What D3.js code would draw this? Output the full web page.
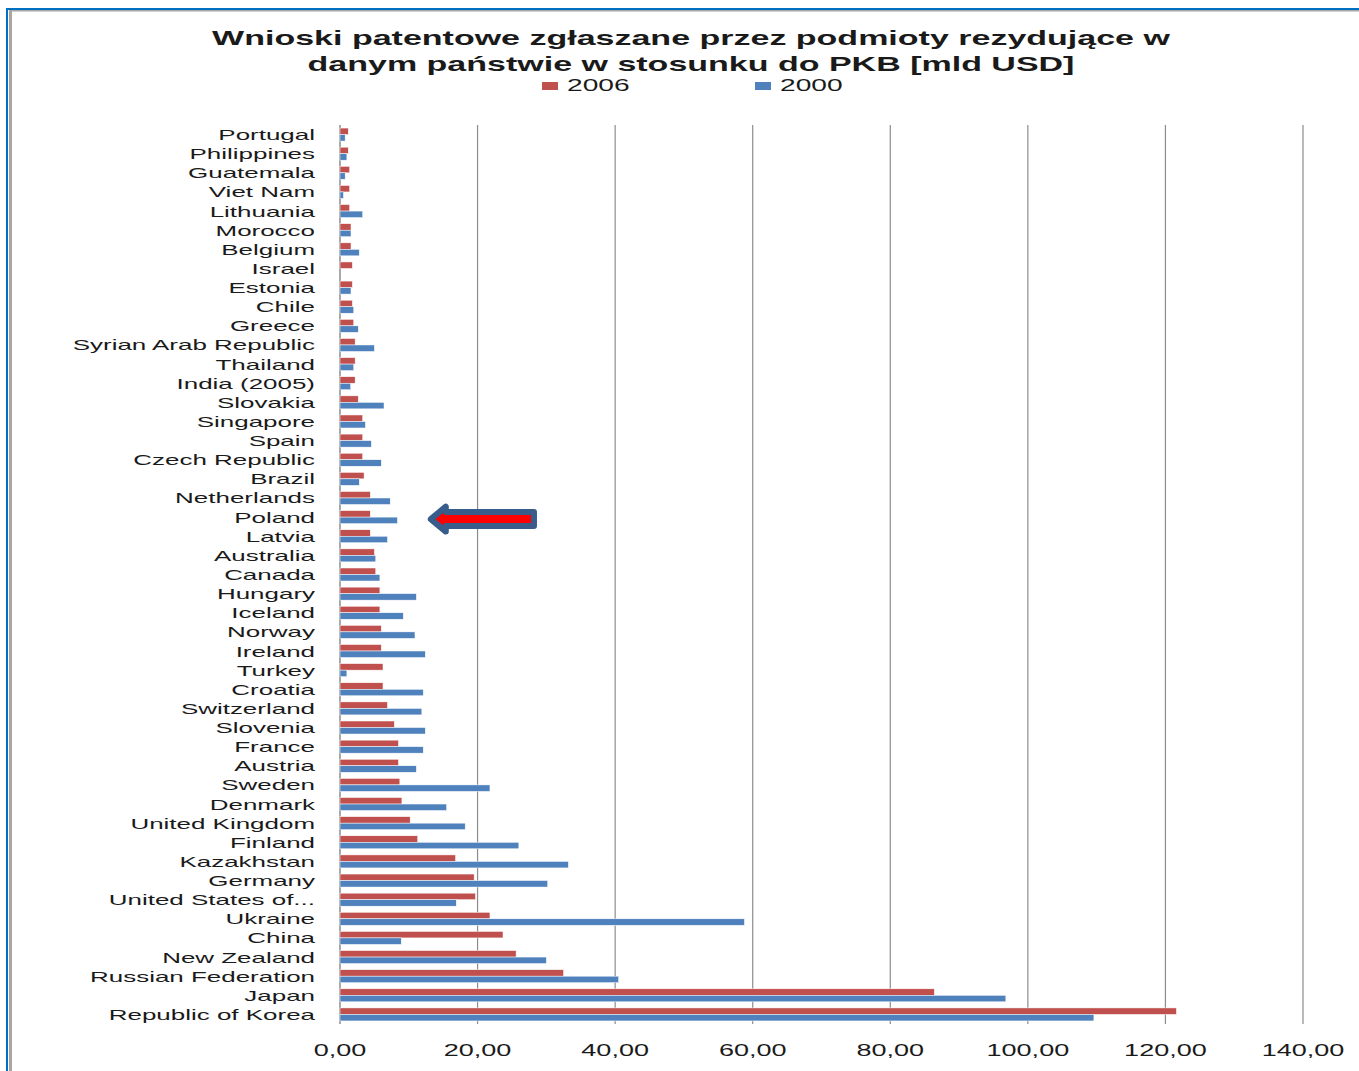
<!DOCTYPE html>
<meta charset="utf-8">
<style>
body { margin: 0; background: #fff; }
svg { display: block; font-family: "Liberation Sans", Arial, sans-serif; }
</style>
<svg width="1359" height="1071"></svg>
<script src="https://d3js.org/d3.v7.min.js"></script>
<script>

var countries = ["Portugal", "Philippines", "Guatemala", "Viet Nam", "Lithuania", "Morocco",
  "Belgium", "Israel", "Estonia", "Chile", "Greece", "Syrian Arab Republic", "Thailand",
  "India (2005)", "Slovakia", "Singapore", "Spain", "Czech Republic", "Brazil", "Netherlands",
  "Poland", "Latvia", "Australia", "Canada", "Hungary", "Iceland", "Norway", "Ireland",
  "Turkey", "Croatia", "Switzerland", "Slovenia", "France", "Austria", "Sweden", "Denmark",
  "United Kingdom", "Finland", "Kazakhstan", "Germany", "United States of...", "Ukraine",
  "China", "New Zealand", "Russian Federation", "Japan", "Republic of Korea"];

var v2006 = [1.2, 1.2, 1.4, 1.4, 1.4, 1.6, 1.6, 1.8, 1.8, 1.8, 2.0, 2.2, 2.2, 2.2, 2.65, 3.3,
  3.3, 3.3, 3.5, 4.4, 4.4, 4.4, 5.0, 5.2, 5.8, 5.8, 6.0, 6.0, 6.25, 6.25, 6.9, 7.9, 8.5, 8.5,
  8.7, 9.0, 10.2, 11.3, 16.8, 19.5, 19.7, 21.8, 23.7, 25.6, 32.5, 86.4, 121.6];

var v2000 = [0.75, 1.0, 0.75, 0.5, 3.3, 1.6, 2.8, 0, 1.6, 2.0, 2.65, 5.0, 2.0, 1.55, 6.4, 3.7,
  4.55, 6.0, 2.8, 7.3, 8.35, 6.9, 5.2, 5.8, 11.1, 9.2, 10.9, 12.4, 1.0, 12.1, 11.9, 12.4,
  12.1, 11.1, 21.8, 15.5, 18.2, 26.0, 33.2, 30.2, 16.9, 58.8, 8.9, 30.0, 40.5, 96.8, 109.6];

var seriesNames = ["2006", "2000"];
var seriesColors = ["#C0504D", "#4F81BD"];
var xTicks = [0, 20, 40, 60, 80, 100, 120, 140];

var titleLines = ["Wnioski patentowe zgłaszane przez podmioty rezydujące w",
                  "danym państwie w stosunku do PKB [mld USD]"];

// highlighted country and arrow span (in axis units)
var marked = "Poland";
var arrowSpan = [28.2, 13.2];

var SX = 1.72; // the picture is stretched horizontally

var svg = d3.select("svg"),
    width = +svg.attr("width"),
    height = +svg.attr("height");

var margin = {top: 125, right: 56, bottom: 47, left: 340};

var x = d3.scaleLinear()
    .domain([0, 140])
    .range([margin.left, width - margin.right]);

var y = d3.scaleBand()
    .domain(countries)
    .range([margin.top, height - margin.bottom])
    .paddingInner(0.32)
    .paddingOuter(0.16);

var ySub = d3.scaleBand()
    .domain(seriesNames)
    .range([0, y.bandwidth()]);

var fmt = function(d) { return d3.format(".2f")(d).replace(".", ","); };

// stretched text helper
function stretched(g, px, py, anchor, size, weight, str, sx) {
  return g.append("text")
      .attr("transform", "translate(" + px + "," + py + ") scale(" + (sx || SX) + ",1)")
      .attr("text-anchor", anchor)
      .attr("font-size", size)
      .attr("font-weight", weight || "normal")
      .attr("fill", "#1a1a1a")
      .text(str);
}

// frame
svg.append("rect").attr("x", 6).attr("y", 8).attr("width", width).attr("height", 2).attr("fill", "#0070C0");
svg.append("rect").attr("x", 6).attr("y", 8).attr("width", 2).attr("height", height).attr("fill", "#0070C0");
svg.append("rect").attr("x", 9).attr("y", 10).attr("width", width).attr("height", 1.5).attr("fill", "#a6a6a6");
svg.append("rect").attr("x", 9).attr("y", 10).attr("width", 3).attr("height", height).attr("fill", "#a6a6a6");

// title
var tg = svg.append("g");
titleLines.forEach(function(t, i) {
  stretched(tg, 691, 45 + i * 26, "middle", 21, "bold", t, 1.62);
});

// legend
var lg = svg.append("g");
[555, 768].forEach(function(cx, i) {
  lg.append("rect")
      .attr("x", cx - 13).attr("y", 82)
      .attr("width", 16).attr("height", 8)
      .attr("fill", seriesColors[i]);
  stretched(lg, cx + 12, 91, "start", 16, "normal", seriesNames[i], 1.76);
});

// grid
svg.append("g")
  .selectAll("line")
  .data(xTicks)
  .join("line")
    .attr("x1", function(d) { return x(d); })
    .attr("x2", function(d) { return x(d); })
    .attr("y1", margin.top)
    .attr("y2", height - margin.bottom)
    .attr("stroke", "#8c8c8c")
    .attr("stroke-width", function(d) { return d === 0 ? 1.5 : 1.2; });

// tick labels
var xl = svg.append("g");
xTicks.forEach(function(d) {
  stretched(xl, x(d), 1056, "middle", 16, "normal", fmt(d), 1.69);
});

// bars
var rows = svg.append("g")
  .selectAll("g")
  .data(countries)
  .join("g")
    .attr("transform", function(d) { return "translate(0," + y(d) + ")"; });

rows.selectAll("rect")
  .data(function(d, i) { return [v2006[i], v2000[i]]; })
  .join("rect")
    .attr("x", x(0))
    .attr("y", function(d, j) { return ySub(seriesNames[j]); })
    .attr("width", function(d) { return x(d) - x(0); })
    .attr("height", ySub.bandwidth())
    .attr("fill", function(d, j) { return seriesColors[j]; })
    .attr("stroke", "#fff")
    .attr("stroke-width", 0.5);

// category labels
var cl = svg.append("g");
countries.forEach(function(c) {
  stretched(cl, 315, y(c) + y.bandwidth() / 2 + 5.5, "end", 15, "normal", c, 1.73);
});

// arrow pointing at the marked country
var ay = y(marked) + y.bandwidth() / 2 + 2,
    tail = x(arrowSpan[0]),
    tip = x(arrowSpan[1]),
    back = tip + 15;
svg.append("path")
    .attr("d", "M" + tip + "," + ay +
               "L" + back + "," + (ay - 12.5) +
               "L" + back + "," + (ay - 7) +
               "L" + tail + "," + (ay - 7) +
               "L" + tail + "," + (ay + 7) +
               "L" + back + "," + (ay + 7) +
               "L" + back + "," + (ay + 12.5) + "Z")
    .attr("fill", "#ff0000")
    .attr("stroke", "#385D8A")
    .attr("stroke-width", 6)
    .attr("stroke-linejoin", "round");

</script>
